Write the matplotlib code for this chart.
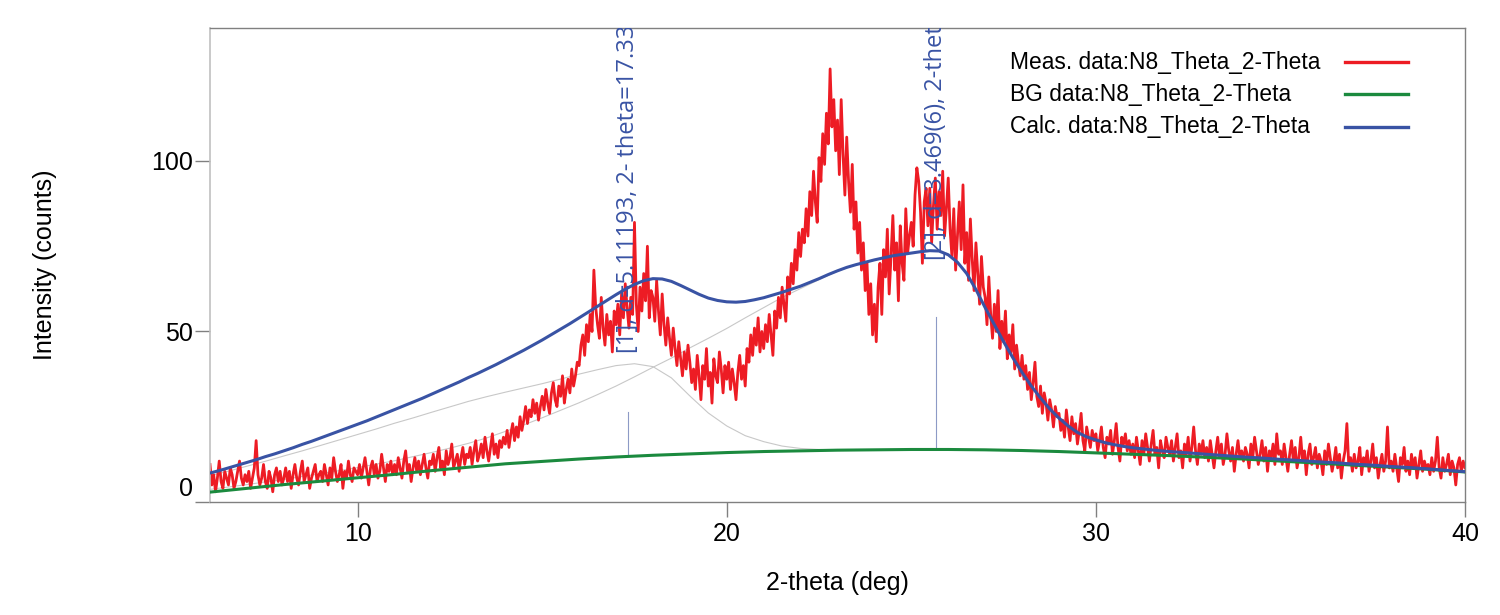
import numpy as np
import matplotlib
matplotlib.use("Agg")
import matplotlib.pyplot as plt
from matplotlib.lines import Line2D
from matplotlib.transforms import ScaledTranslation

# ---------------- data ----------------
# measured scan: 2-theta from 6.00 to 40.00, step 0.05 (one row = one degree)
meas_start = 6.0
meas_step = 0.05
meas_counts = [
    [11, 5, 8, 3, 7, 12, 6, 4, 9, 7, 5, 10, 8, 4, 6, 9, 12, 7, 5, 8],            # 6
    [6, 9, 4, 7, 10, 18, 8, 5, 7, 11, 6, 4, 9, 7, 3, 8, 10, 6, 9, 5],             # 7
    [7, 10, 6, 9, 4, 8, 11, 7, 5, 9, 12, 6, 8, 10, 4, 7, 9, 11, 6, 8],            # 8
    [9, 6, 11, 8, 5, 10, 7, 13, 9, 6, 8, 11, 4, 9, 7, 12, 8, 6, 10, 9],           # 9
    [8, 11, 7, 10, 13, 9, 5, 10, 12, 8, 11, 7, 9, 14, 10, 6, 11, 9, 12, 8],       # 10
    [11, 8, 13, 10, 7, 12, 15, 9, 11, 6, 10, 13, 9, 12, 8, 11, 14, 10, 7, 12],    # 11
    [11, 14, 9, 13, 16, 10, 12, 8, 15, 11, 13, 17, 10, 12, 14, 9, 13, 16, 11, 14],  # 12
    [13, 16, 11, 15, 18, 12, 14, 17, 13, 19, 15, 12, 16, 20, 14, 17, 13, 18, 16, 19],  # 13
    [17, 21, 16, 20, 23, 18, 22, 19, 25, 21, 24, 28, 23, 27, 25, 30, 26, 29, 24, 28],  # 14
    [31, 27, 33, 29, 26, 32, 35, 30, 28, 34, 31, 37, 29, 33, 36, 32, 39, 34, 37, 41],  # 15
    [40, 46, 49, 43, 52, 47, 55, 50, 68, 57, 52, 48, 60, 51, 46, 55, 49, 53, 44, 56],  # 16
    [52, 58, 49, 61, 54, 64, 57, 51, 60, 55, 82, 58, 50, 63, 56, 67, 59, 75, 54, 62],  # 17
    [60, 53, 65, 56, 49, 61, 52, 46, 54, 48, 43, 51, 45, 40, 47, 42, 37, 44, 39, 46],  # 18
    [41, 35, 39, 33, 43, 37, 30, 40, 36, 45, 34, 38, 29, 42, 37, 35, 44, 39, 32, 40],  # 19
    [36, 41, 33, 39, 35, 30, 38, 43, 36, 40, 34, 45, 41, 49, 43, 51, 46, 54, 44, 50],  # 20
    [45, 52, 47, 55, 49, 43, 56, 51, 60, 54, 63, 58, 53, 66, 61, 70, 64, 74, 68, 79],  # 21
    [72, 80, 76, 86, 78, 91, 84, 97, 88, 82, 101, 94, 108, 99, 114, 105, 127, 110, 118, 103],  # 22
    [112, 96, 118, 102, 90, 107, 94, 85, 99, 80, 88, 73, 82, 68, 76, 62, 70, 55, 64, 49],  # 23
    [58, 47, 63, 70, 55, 74, 66, 80, 61, 72, 84, 68, 76, 59, 81, 70, 65, 86, 73, 78],  # 24
    [82, 75, 90, 98, 94, 85, 70, 88, 92, 81, 92, 76, 87, 95, 80, 91, 84, 97, 78, 86],  # 25
    [95, 80, 72, 86, 68, 78, 88, 74, 93, 70, 79, 65, 83, 71, 62, 76, 67, 58, 72, 63],  # 26
    [60, 52, 66, 55, 48, 58, 50, 62, 45, 53, 47, 56, 42, 49, 44, 52, 39, 46, 41, 37],  # 27
    [43, 36, 40, 33, 38, 30, 35, 41, 31, 28, 34, 26, 32, 29, 24, 30, 27, 22, 28, 25],  # 28
    [26, 21, 24, 19, 27, 22, 18, 25, 20, 23, 17, 21, 26, 18, 15, 22, 19, 16, 21, 18],  # 29
    [20, 15, 18, 22, 16, 13, 19, 17, 21, 14, 18, 23, 16, 12, 19, 17, 20, 15, 18, 14],  # 30
    [17, 13, 19, 15, 11, 18, 14, 20, 16, 12, 17, 21, 14, 16, 10, 18, 15, 13, 19, 16],  # 31
    [14, 18, 12, 16, 20, 13, 15, 10, 17, 14, 19, 12, 16, 22, 15, 11, 17, 14, 18, 13],  # 32
    [16, 12, 18, 14, 10, 15, 19, 13, 17, 11, 14, 20, 15, 12, 16, 9, 14, 18, 13, 15],  # 33
    [12, 16, 14, 10, 17, 13, 19, 15, 11, 14, 18, 12, 16, 9, 15, 13, 17, 11, 20, 14],  # 34
    [15, 11, 17, 13, 9, 14, 18, 12, 16, 10, 13, 19, 12, 15, 8, 14, 17, 11, 13, 16],  # 35
    [10, 14, 12, 8, 15, 11, 17, 13, 9, 12, 16, 10, 14, 7, 12, 15, 23, 11, 13, 9],  # 36
    [14, 10, 12, 16, 8, 13, 11, 15, 9, 12, 17, 10, 13, 7, 11, 14, 9, 12, 22, 10],  # 37
    [12, 9, 14, 10, 6, 13, 11, 16, 9, 12, 8, 14, 10, 13, 7, 11, 15, 9, 12, 10],  # 38
    [11, 8, 13, 9, 12, 19, 10, 7, 13, 9, 11, 14, 8, 12, 10, 5, 11, 13, 9, 12],  # 39
    [10],                                                                        # 40
]

# calculated profile, 0.25 deg grid from 6 to 40 (one row = one degree)
calc_start = 6.0
calc_step = 0.25
calc_counts = [
    [8.5, 9.2, 10.0, 10.8], [11.6, 12.4, 13.3, 14.1], [15.0, 15.9, 16.9, 17.8],
    [18.8, 19.8, 20.8, 21.8], [22.8, 23.8, 24.9, 26.0], [27.1, 28.2, 29.3, 30.4],
    [31.6, 32.8, 34.0, 35.2], [36.5, 37.7, 39.0, 40.3], [41.7, 43.1, 44.5, 46.0],
    [47.5, 49.1, 50.7, 52.3], [54.0, 55.7, 57.4, 59.1], [60.8, 62.4, 63.8, 64.9],
    [65.5, 65.4, 64.7, 63.5], [62.2, 60.9, 59.8, 59.1], [58.7, 58.6, 58.8, 59.3],
    [59.9, 60.7, 61.5, 62.4], [63.3, 64.4, 65.5, 66.7], [67.8, 68.8, 69.6, 70.3],
    [71.0, 71.6, 72.2, 72.6], [73.0, 73.4, 73.7, 73.6], [72.5, 70.3, 67.0, 62.3],
    [57.0, 52.0, 47.0, 42.3], [38.0, 34.0, 30.5, 27.3], [24.6, 22.3, 20.4, 19.1],
    [18.2, 17.4, 16.8, 16.3], [15.9, 15.6, 15.3, 15.0], [14.8, 14.6, 14.4, 14.2],
    [14.0, 13.8, 13.6, 13.4], [13.2, 13.05, 12.9, 12.7], [12.5, 12.35, 12.2, 12.0],
    [11.8, 11.65, 11.5, 11.3], [11.1, 10.95, 10.8, 10.6], [10.4, 10.25, 10.1, 9.9],
    [9.7, 9.5, 9.3, 9.1], [8.9],
]

# background, 1 deg grid from 6 to 40
bg_start = 6.0
bg_step = 1.0
bg_counts = [2.9, 4.0, 5.1, 6.1, 7.1, 8.1, 9.2, 10.2, 11.2, 11.9,
             12.6, 13.2, 13.7, 14.1, 14.5, 14.8, 15.0, 15.2, 15.3, 15.4,
             15.4, 15.3, 15.1, 14.8, 14.4, 14.0, 13.6, 13.1, 12.6, 12.0,
             11.4, 10.8, 10.2, 9.6, 8.8]

# individual peak profiles (background included), 0.5 deg grid from 6 to 24
peak_start = 6.0
peak_step = 0.5
peak1_counts = [7.7, 9.05, 10.5, 11.95, 13.5, 15.0, 16.6, 18.2, 19.8, 21.4,
                23.1, 24.65, 26.3, 27.9, 29.5, 30.9, 32.2, 33.45, 34.7, 36.05,
                37.5, 38.8, 40.0, 40.55, 39.7, 36.4, 31.1, 26.1, 22.3, 19.45,
                17.7, 16.4, 15.7, 15.4, 15.3, 15.25, 15.3]
peak2_counts = [3.7, 4.4, 5.1, 5.9, 6.6, 7.5, 8.3, 9.2, 10.1, 11.1,
                12.1, 13.3, 14.5, 15.8, 17.2, 18.8, 20.7, 22.6, 24.7, 26.9,
                29.1, 31.5, 34.0, 36.7, 39.5, 42.2, 45.2, 48.0, 50.9, 54.0,
                57.0, 60.0, 62.6, 65.2, 67.7, 69.6, 71.0]

# peak markers
peak_pos = [17.333, 25.67]
peak_marker_low = [13.8, 15.4]
peak_marker_high = [26.4, 54.2]
peak_label_base = [43.7, 71.0]
peak_labels = ["[1], d=5.11193, 2- theta=17.333(11)",
               "[2], d=3.469(6), 2-theta=25.66(5)"]

legend_labels = ["Meas. data:N8_Theta_2-Theta",
                 "BG data:N8_Theta_2-Theta",
                 "Calc. data:N8_Theta_2-Theta"]
x_ticks = [10, 20, 30, 40]
y_ticks = [0, 50, 100]

# ---------------- figure ----------------
plt.rcParams['font.family'] = ['Liberation Sans', 'DejaVu Sans']

RED = '#ed1c24'
GREEN = '#1b8a3e'
BLUE = '#3953a4'
GRAY = '#808080'

fig = plt.figure(figsize=(15, 6.15), dpi=100)
ax = fig.add_axes([210 / 1500, 1 - 502 / 615, (1465 - 210) / 1500, (502 - 28) / 615])

meas_y = np.concatenate([np.asarray(r, float) for r in meas_counts])
meas_x = meas_start + meas_step * np.arange(meas_y.size)
calc_y = np.concatenate([np.asarray(r, float) for r in calc_counts])
calc_x = calc_start + calc_step * np.arange(calc_y.size)
bg_y = np.asarray(bg_counts, float)
bg_x = bg_start + bg_step * np.arange(bg_y.size)
p1_y = np.asarray(peak1_counts, float)
p2_y = np.asarray(peak2_counts, float)
p_x = peak_start + peak_step * np.arange(p1_y.size)

ax.plot(p_x, p1_y, color='#c8c8c8', lw=0.8, zorder=1)
ax.plot(p_x, p2_y, color='#c8c8c8', lw=0.8, zorder=1)

for xp, lo, hi in zip(peak_pos, peak_marker_low, peak_marker_high):
    ax.plot([xp, xp], [lo, hi], color='#8d9ac6', lw=0.8, zorder=1.5)

ax.plot(meas_x, meas_y, color=RED, lw=2.0, zorder=2)
ax.plot(bg_x, bg_y, color=GREEN, lw=2.2, zorder=3)
ax.plot(calc_x, calc_y, color=BLUE, lw=2.2, zorder=4)

for xp, yb, txt in zip(peak_pos, peak_label_base, peak_labels):
    t = ax.text(xp, yb, txt, rotation=90, ha='center', va='bottom',
                color=BLUE, fontsize=17, family=['Open Sans', 'DejaVu Sans'],
                zorder=5)
    t.set_clip_on(True)

ax.set_xlim(6, 40)
ax.set_ylim(0, 139)
ax.set_xticks(x_ticks)
ax.set_yticks(y_ticks)
ax.set_xticklabels([str(v) for v in x_ticks])
ax.set_yticklabels([str(v) for v in y_ticks])
ax.tick_params(axis='x', direction='out', length=10.5, width=1, color=GRAY,
               labelsize=18, pad=4)
ax.tick_params(axis='y', direction='out', length=10.5, width=1, color=GRAY,
               labelsize=18, pad=1.5)
# lift the "0" label above the axis line
lab0 = ax.get_yticklabels()[0]
lab0.set_transform(lab0.get_transform() + ScaledTranslation(0, 0.15, fig.dpi_scale_trans))

for side in ['top', 'right', 'bottom']:
    ax.spines[side].set_color(GRAY)
    ax.spines[side].set_linewidth(1.0)
ax.spines['left'].set_color('#c0c0c0')
ax.spines['left'].set_linewidth(1.2)

ax.set_xlabel('2-theta (deg)', fontsize=18, labelpad=18)
ax.set_ylabel('Intensity (counts)', fontsize=18, labelpad=68)

# legend: text on the left, line sample on the right
legend_colors = [RED, GREEN, BLUE]
row_y = [62, 94, 127]
for lab, col, ry in zip(legend_labels, legend_colors, row_y):
    fy = 1 - ry / 615
    fig.text(1010 / 1500, fy, lab, ha='left', va='center', fontsize=16.4)
    fig.add_artist(Line2D([1345 / 1500, 1408 / 1500], [fy, fy], color=col,
                          lw=2.4, transform=fig.transFigure))

fig.savefig('out.png', dpi=100)
